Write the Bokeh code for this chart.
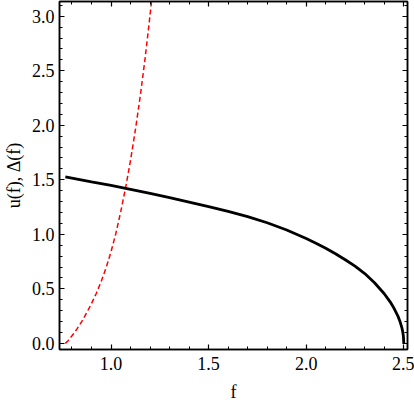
from bokeh.plotting import figure
from bokeh.models import LinearAxis, Range1d, FixedTicker, PrintfTickFormatter, CustomJSTickFormatter
from bokeh.embed import file_html
from bokeh.resources import INLINE

# Data
delta_f = [0.766, 0.9, 1.0, 1.1, 1.2, 1.3, 1.4, 1.5, 1.6, 1.7, 1.8, 1.9, 2.0,
           2.05, 2.1, 2.15, 2.2, 2.25, 2.3, 2.35, 2.4, 2.43, 2.45, 2.47, 2.48,
           2.49, 2.495, 2.498, 2.5]
delta_v = [1.528, 1.482, 1.449, 1.413, 1.375, 1.336, 1.296, 1.254, 1.211, 1.163,
           1.106, 1.040, 0.962, 0.919, 0.873, 0.822, 0.767, 0.708, 0.640, 0.556,
           0.455, 0.381, 0.322, 0.250, 0.204, 0.145, 0.103, 0.065, 0.0]
u_f = [0.766, 0.78, 0.8, 0.825, 0.85, 0.875, 0.9, 0.925, 0.95, 0.975, 1.0,
       1.025, 1.05, 1.075, 1.1, 1.125, 1.15, 1.175, 1.2, 1.225]
u_v = [0.0, 0.025, 0.07, 0.13, 0.20, 0.28, 0.365, 0.46, 0.57, 0.695, 0.84,
       1.01, 1.21, 1.43, 1.68, 1.96, 2.27, 2.62, 3.01, 3.43]

x_ticks = [1.0, 1.5, 2.0, 2.5]
y_ticks = [0.0, 0.5, 1.0, 1.5, 2.0, 2.5, 3.0]
x_minor = [round(0.8 + 0.1 * i, 2) for i in range(18)]
y_minor = [round(0.1 * i, 2) for i in range(32)]

FONT = "Liberation Serif"

p = figure(width=414, height=404, output_backend="svg", toolbar_location=None,
           x_range=Range1d(0.736, 2.519), y_range=Range1d(-0.056, 3.135),
           x_axis_label="f", y_axis_label="u(f), Δ(f)",
           min_border_left=55, min_border_right=7, min_border_top=1,
           min_border_bottom=52)
p.grid.visible = False
p.outline_line_color = "black"
p.outline_line_width = 1.5
p.background_fill_color = "white"
p.border_fill_color = "white"

p.line(u_f, u_v, line_color="#ff0000", line_width=1.5, line_dash="5 3")
p.line(delta_f, delta_v, line_color="black", line_width=2.8)

def style(ax, ticks, minor):
    ax.ticker = FixedTicker(ticks=ticks, minor_ticks=minor)
    ax.major_tick_in = 5
    ax.major_tick_out = 0
    ax.minor_tick_in = 3
    ax.minor_tick_out = 0
    ax.axis_line_color = "black"
    ax.axis_line_width = 1.5
    ax.major_tick_line_width = 1.2
    ax.minor_tick_line_width = 1.0
    ax.major_label_text_font = FONT
    ax.major_label_text_font_size = "18px"
    ax.major_label_text_color = "black"
    ax.axis_label_text_font = FONT
    ax.axis_label_text_font_size = "18px"
    ax.axis_label_text_font_style = "normal"
    ax.axis_label_text_color = "black"

style(p.xaxis[0], x_ticks, x_minor)
style(p.yaxis[0], y_ticks, y_minor)
p.xaxis[0].formatter = PrintfTickFormatter(format="%.1f")
p.yaxis[0].formatter = PrintfTickFormatter(format="%.1f")
p.xaxis[0].major_label_standoff = 7
p.xaxis[0].axis_label_standoff = 9
p.yaxis[0].major_label_standoff = 5
p.yaxis[0].axis_label_standoff = 5

blank = "return ''"
top = LinearAxis(formatter=CustomJSTickFormatter(code=blank))
style(top, x_ticks, x_minor)
top.major_label_standoff = 0
right = LinearAxis(formatter=CustomJSTickFormatter(code=blank))
style(right, y_ticks, y_minor)
right.major_label_standoff = 0
p.add_layout(top, "above")
p.add_layout(right, "right")

open("out.html", "w").write(file_html(p, INLINE))
